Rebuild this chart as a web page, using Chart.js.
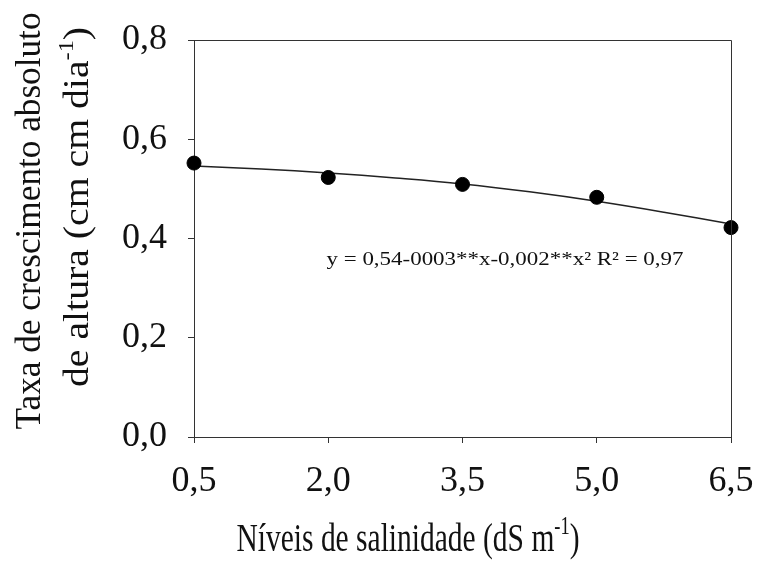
<!DOCTYPE html>
<html>
<head>
<meta charset="utf-8">
<script src="https://cdn.jsdelivr.net/npm/chart.js@4.4.1/dist/chart.umd.min.js"></script>
<style>
  html, body { margin: 0; padding: 0; background: #fff; }
  #wrap { width: 757px; height: 563px; }
</style>
</head>
<body>
<div id="wrap"><canvas id="growthChart" width="757" height="563"></canvas></div>
<script>
// observed means
const salinityLevels = [0.5, 2.0, 3.5, 5.0, 6.5];
const growthRate = [0.552, 0.523, 0.509, 0.483, 0.422];

// fitted curve
const fitX = [0.5, 1.25, 2.0, 2.75, 3.5, 4.25, 5.0, 5.75, 6.5];
const fitY = [0.546, 0.540, 0.532, 0.522, 0.510, 0.494, 0.475, 0.453, 0.429];

const xTickLabels = ['0,5', '2,0', '3,5', '5,0', '6,5'];
const yTickValues = [0, 0.2, 0.4, 0.6, 0.8];
const yTickLabels = ['0,0', '0,2', '0,4', '0,6', '0,8'];

const equationText = ['y = 0,54-0003**x-0,002**x\u00B2 R\u00B2 = 0,97', '', ''];
const yTitleLine1 = ['Taxa de crescimento absoluto', '', ''];
const yTitleLine2 = ['de altura (cm cm dia', '-1', ')'];
const xTitle = ['N\u00EDveis de salinidade (dS m', '-1', ')'];

const serif = '"Liberation Serif", "Times New Roman", serif';
const ink = '#111';

// text with an optional raised exponent, centred on (cx, y),
// squeezed or stretched sideways to a given width
function drawSup(ctx, cx, y, parts, size, width) {
    const supSize = Math.round(size * 0.62);
    ctx.font = size + 'px ' + serif;
    const w1 = ctx.measureText(parts[0]).width;
    const w3 = ctx.measureText(parts[2]).width;
    ctx.font = supSize + 'px ' + serif;
    const w2 = ctx.measureText(parts[1]).width;
    const total = w1 + w2 + w3;
    const k = width ? width / total : 1;
    ctx.save();
    ctx.translate(cx - total * k / 2, y);
    ctx.scale(k, 1);
    ctx.textAlign = 'left';
    ctx.textBaseline = 'alphabetic';
    ctx.font = size + 'px ' + serif;
    ctx.fillText(parts[0], 0, 0);
    ctx.font = supSize + 'px ' + serif;
    ctx.fillText(parts[1], w1, -size * 0.42);
    ctx.font = size + 'px ' + serif;
    ctx.fillText(parts[2], w1 + w2, 0);
    ctx.restore();
}

const decorPlugin = {
    id: 'decor',
    afterDraw(chart) {
        const ctx = chart.ctx;
        const a = chart.chartArea;
        ctx.save();
        // top and right frame
        ctx.strokeStyle = '#333';
        ctx.lineWidth = 1;
        ctx.beginPath();
        ctx.moveTo(Math.round(a.left) + 0.5, Math.round(a.top) + 0.5);
        ctx.lineTo(Math.round(a.right) + 0.5, Math.round(a.top) + 0.5);
        ctx.lineTo(Math.round(a.right) + 0.5, Math.round(a.bottom) + 0.5);
        ctx.stroke();

        ctx.fillStyle = ink;
        // equation
        drawSup(ctx, 505, 265, equationText, 19, 357);

        // x title
        drawSup(ctx, 408, 551, xTitle, 40, 343);

        // y title, two rotated lines
        ctx.save();
        ctx.translate(40, 221);
        ctx.rotate(-Math.PI / 2);
        drawSup(ctx, 0, 0, yTitleLine1, 36, 417);
        ctx.restore();

        ctx.save();
        ctx.translate(88, 207);
        ctx.rotate(-Math.PI / 2);
        drawSup(ctx, 0, 0, yTitleLine2, 36, 360);
        ctx.restore();

        ctx.restore();
    }
};

const ctx = document.getElementById('growthChart').getContext('2d');

new Chart(ctx, {
    type: 'scatter',
    data: {
        datasets: [
            {
                label: 'ajuste',
                data: fitX.map((x, i) => ({ x: x, y: fitY[i] })),
                showLine: true,
                tension: 0.4,
                borderColor: '#222',
                borderWidth: 1.5,
                pointRadius: 0,
                clip: false,
                order: 2
            },
            {
                label: 'observado',
                data: salinityLevels.map((x, i) => ({ x: x, y: growthRate[i] })),
                backgroundColor: '#000',
                borderColor: '#000',
                pointRadius: 7,
                clip: false,
                order: 1
            }
        ]
    },
    options: {
        responsive: false,
        animation: false,
        devicePixelRatio: 1,
        layout: { padding: { left: 0, right: 26, top: 40, bottom: 0 } },
        plugins: {
            legend: { display: false },
            tooltip: { enabled: false }
        },
        scales: {
            x: {
                type: 'linear',
                min: 0.5,
                max: 6.5,
                afterBuildTicks: scale => {
                    scale.ticks = salinityLevels.map(v => ({ value: v }));
                },
                afterFit: scale => {
                    scale.height = 126;
                    scale.paddingLeft = 0;
                    scale.paddingRight = 0;
                },
                grid: {
                    drawOnChartArea: false,
                    drawTicks: true,
                    tickLength: 6,
                    tickColor: '#333'
                },
                border: { display: true, color: '#333', width: 1 },
                ticks: {
                    autoSkip: false,
                    maxRotation: 0,
                    padding: 17,
                    color: ink,
                    font: { family: serif, size: 36 },
                    callback: (v, i) => xTickLabels[i]
                }
            },
            y: {
                min: 0,
                max: 0.8,
                afterBuildTicks: scale => {
                    scale.ticks = yTickValues.map(v => ({ value: v }));
                },
                afterFit: scale => {
                    scale.width = 194;
                    scale.paddingTop = 0;
                    scale.paddingBottom = 0;
                },
                grid: {
                    drawOnChartArea: false,
                    drawTicks: true,
                    tickLength: 6,
                    tickColor: '#333'
                },
                border: { display: true, color: '#333', width: 1 },
                ticks: {
                    padding: 21,
                    color: ink,
                    font: { family: serif, size: 36 },
                    callback: (v, i) => yTickLabels[i]
                }
            }
        }
    },
    plugins: [decorPlugin]
});
</script>
</body>
</html>
